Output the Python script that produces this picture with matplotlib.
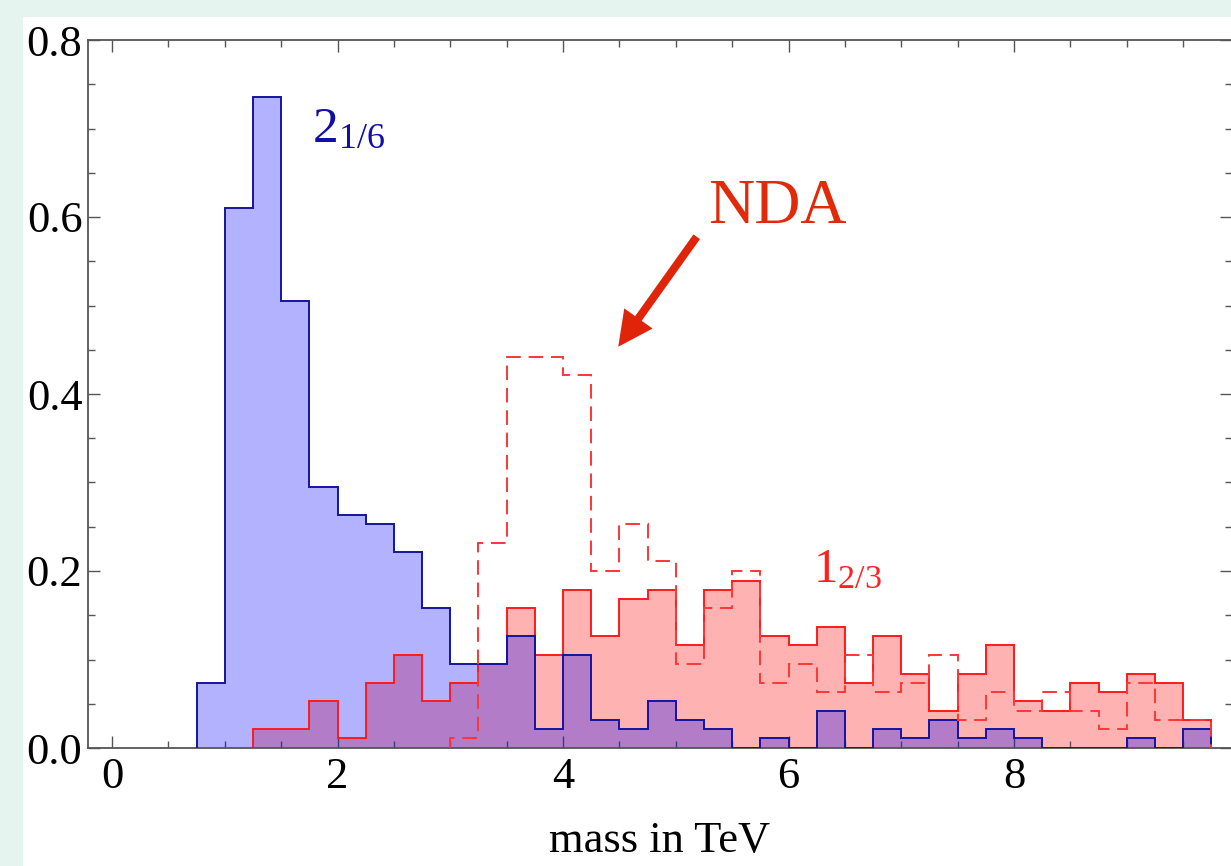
import numpy as np
import matplotlib
matplotlib.use("Agg")
import matplotlib.pyplot as plt
from matplotlib.patches import Rectangle
from matplotlib.ticker import MultipleLocator, FormatStrFormatter

plt.rcParams['font.family'] = ['Liberation Serif', 'DejaVu Serif']
plt.rcParams['mathtext.fontset'] = 'custom'
plt.rcParams['mathtext.rm'] = 'Liberation Serif'
plt.rcParams['mathtext.it'] = 'Liberation Serif:italic'

########## DATA
bin_width = 0.25

# 2_{1/6}, bins starting at 0.75 TeV
start_21_6 = 0.75
hist_21_6 = [0.074, 0.610, 0.736, 0.505, 0.295, 0.263, 0.253, 0.221, 0.158,
             0.095, 0.095, 0.126, 0.021, 0.105, 0.032, 0.021, 0.053, 0.032,
             0.021, 0.0, 0.011, 0.0, 0.042, 0.0, 0.021, 0.011, 0.032, 0.011,
             0.021, 0.011, 0.0, 0.0, 0.0, 0.011, 0.0, 0.021]

# 1_{2/3}, bins starting at 1.25 TeV
start_12_3 = 1.25
hist_12_3 = [0.021, 0.021, 0.053, 0.011, 0.074, 0.105, 0.053, 0.074, 0.095,
             0.158, 0.105, 0.179, 0.126, 0.168, 0.179, 0.116, 0.179, 0.189,
             0.126, 0.116, 0.137, 0.074, 0.126, 0.084, 0.042, 0.084, 0.116,
             0.053, 0.042, 0.074, 0.063, 0.084, 0.074, 0.032]

# NDA (dashed), bins starting at 3.0 TeV
start_nda = 3.0
hist_nda = [0.011, 0.232, 0.442, 0.442, 0.421, 0.200, 0.253, 0.211, 0.095,
            0.158, 0.200, 0.074, 0.095, 0.063, 0.105, 0.063, 0.074, 0.105,
            0.032, 0.063, 0.042, 0.063, 0.042, 0.021, 0.074, 0.032, 0.032]

xticks = [0, 2, 4, 6, 8]
yticks = [0.0, 0.2, 0.4, 0.6, 0.8]


def edges_for(start, values):
    return start + bin_width * np.arange(len(values) + 1)


def main():
    fig = plt.figure(figsize=(12.31, 8.66), dpi=100)
    fig.patch.set_facecolor('#e5f4ee')
    fig.add_artist(Rectangle((23/1231., 0), 1.0, 1 - 17/866., transform=fig.transFigure,
                             facecolor='white', edgecolor='none', zorder=-10))
    ax = fig.add_axes([88/1231., 1 - 748/866., 1144/1231., 708/866.])

    e_blue = edges_for(start_21_6, hist_21_6)
    e_red = edges_for(start_12_3, hist_12_3)
    e_nda = edges_for(start_nda, hist_nda)

    ## fills first, outlines on top
    ax.stairs(hist_12_3, e_red, fill=True, color=(1, 0, 0, 0.3), linewidth=0, zorder=1)
    ax.stairs(hist_21_6, e_blue, fill=True, color=(0, 0, 1, 0.3), linewidth=0, zorder=2)
    ax.stairs(hist_12_3, e_red, color='#ff1a1a', linewidth=1.4, zorder=3)
    ax.stairs(hist_21_6, e_blue, color='#1414a0', linewidth=1.4, zorder=4)
    ax.stairs(hist_nda, e_nda, color='#ff3535', linewidth=1.4,
              linestyle=(0, (7.5, 4)), zorder=5)

    ## labels
    ax.text(1.774, 0.685, r'$\mathrm{2}_{\mathrm{1/6}}$', color='#1010a8',
            fontsize=37, ha='left', va='baseline')
    ax.text(6.217, 0.1868, r'$\mathrm{1}_{\mathrm{2/3}}$', color='#ff2020',
            fontsize=35, ha='left', va='baseline')
    ax.text(5.286, 0.593, 'NDA', color='#e02a0a', fontsize=46,
            ha='left', va='baseline')
    ax.annotate('', xy=(4.490, 0.4534), xytext=(5.186, 0.5777),
                arrowprops=dict(facecolor='#e0240a', edgecolor='none',
                                width=5.8, headwidth=25, headlength=25, shrink=0))

    ax.set_xlim((88 - 112) / 112.75, (1232 - 112) / 112.75)
    ax.set_ylim(0, 0.8)
    ax.set_xticks(xticks)
    ax.set_yticks(yticks)
    ax.xaxis.set_minor_locator(MultipleLocator(0.5))
    ax.yaxis.set_minor_locator(MultipleLocator(0.05))
    ax.yaxis.set_major_formatter(FormatStrFormatter('%.1f'))

    ax.tick_params(which='both', direction='in', top=True, right=True,
                   color='#555555', width=1.0, labelsize=32, labelcolor='black')
    ax.tick_params(which='major', length=8.6)
    ax.tick_params(which='minor', length=5)
    ax.tick_params(axis='x', which='major', pad=6.5)
    ax.tick_params(axis='y', which='major', pad=4)
    for side in ['left', 'top', 'bottom']:
        ax.spines[side].set_color('#555555')
        ax.spines[side].set_linewidth(1.3)
    ax.spines['right'].set_visible(False)

    ax.set_xlabel('mass in TeV', fontsize=32, labelpad=17)

    plt.savefig('out.png', dpi=100, facecolor=fig.get_facecolor())


if __name__ == '__main__':
    main()
